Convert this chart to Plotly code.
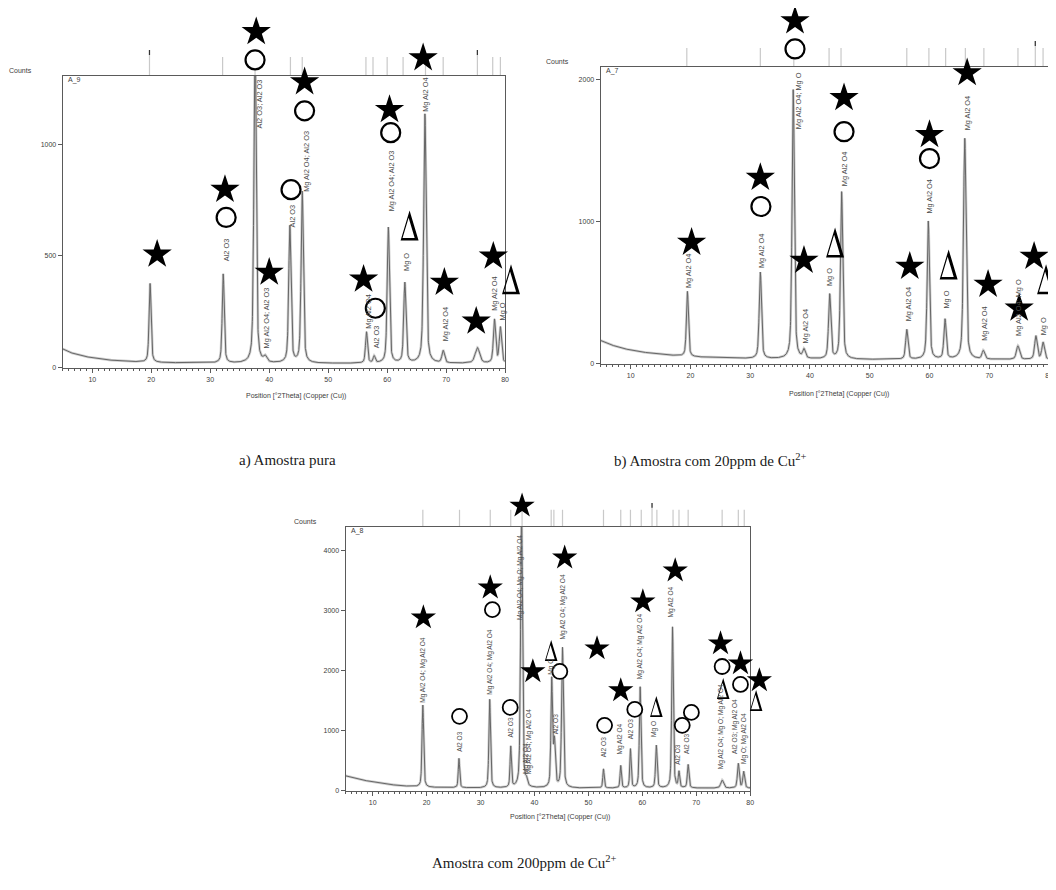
import numpy as np
import plotly.graph_objects as go

W, H = 1056, 890

# ---------------- DATA ----------------
# Panel a) Amostra pura  (scan A_9)
a_peak_pos    = [19.8, 32.2, 37.6, 39.3, 43.5, 45.6, 56.5, 57.8, 60.2, 63.0, 66.4, 69.5, 75.3, 78.2, 79.2]
a_peak_counts = [355, 400, 1500, 25, 615, 770, 140, 30, 610, 360, 1120, 55, 70, 195, 160]
a_peak_fwhm   = [0.4, 0.4, 0.45, 0.6, 0.45, 0.45, 0.4, 0.4, 0.45, 0.45, 0.5, 0.5, 0.9, 0.45, 0.45]
a_bg_pos      = [5, 6, 8, 10, 12, 15, 20, 30, 40, 50, 60, 70, 80]
a_bg_counts   = [82, 68, 52, 42, 34, 27, 21, 18, 17, 17, 17, 17, 17]
a_ref_lines   = [19.7, 32.1, 37.6, 43.6, 45.6, 56.4, 57.6, 60.0, 62.7, 66.5, 69.5, 75.3, 77.9, 79.2]
a_ref_marked  = [19.7, 75.3]
a_label_text  = ["Al2 O3", "Al2 O3; Al2 O3", "Mg Al2 O4; Al2 O3", "Al2 O3", "Mg Al2 O4; Al2 O3",
                 "Mg Al2 O4", "Al2 O3", "Mg Al2 O4; Al2 O3", "Mg O", "Mg Al2 O4", "Mg Al2 O4",
                 "Mg Al2 O4", "Mg O"]
a_label_pos   = [32.9, 38.3, 39.6, 44.0, 46.2, 56.9, 58.2, 60.7, 63.3, 66.5, 69.9, 78.3, 79.5]
a_label_counts = [471, 1067, 81, 625, 785, 170, 81, 695, 426, 1143, 112, 247, 206]
a_star_pos    = [21.0, 32.5, 37.8, 46.0, 40.0, 56.0, 60.4, 66.1, 69.7, 75.1, 78.0]
a_star_counts = [507, 798, 1507, 1282, 426, 395, 1157, 1390, 381, 206, 498]
a_circ_pos    = [37.6, 32.7, 43.7, 46.0, 60.6, 58.0]
a_circ_counts = [1381, 673, 798, 1152, 1054, 265]
a_tri_pos     = [63.8, 81.0]
a_tri_counts  = [637, 395]

# Panel b) Amostra com 20ppm de Cu2+  (scan A_7)
b_peak_pos    = [19.5, 31.7, 37.2, 39.0, 43.3, 45.3, 56.2, 59.8, 62.6, 65.9, 69.0, 74.8, 77.8, 79.0]
b_peak_counts = [460, 610, 1900, 60, 455, 1180, 210, 975, 280, 1560, 60, 95, 165, 120]
b_peak_fwhm   = [0.4, 0.45, 0.45, 0.5, 0.45, 0.45, 0.45, 0.45, 0.45, 0.5, 0.5, 0.6, 0.5, 0.5]
b_bg_pos      = [5, 6, 8, 10, 12, 15, 20, 30, 40, 50, 60, 70, 80]
b_bg_counts   = [160, 140, 112, 92, 78, 62, 45, 32, 28, 26, 26, 26, 26]
b_ref_lines   = [19.4, 31.7, 37.3, 43.2, 45.2, 56.2, 59.9, 62.7, 66.0, 69.1, 74.8, 77.7, 79.0]
b_ref_marked  = [77.7]
b_label_text  = ["Mg Al2 O4", "Mg Al2 O4", "Mg Al2 O4; Mg O", "Mg Al2 O4", "Mg O", "Mg Al2 O4",
                 "Mg Al2 O4", "Mg Al2 O4", "Mg O", "Mg Al2 O4", "Mg Al2 O4", "Mg Al2 O4; Mg O", "Mg O"]
b_label_pos   = [19.8, 32.0, 38.0, 39.3, 43.3, 45.7, 56.5, 60.0, 62.8, 66.3, 69.3, 75.0, 79.0]
b_label_counts = [521, 662, 1648, 134, 535, 1239, 289, 1049, 380, 1634, 148, 183, 190]
b_star_pos    = [20.2, 31.7, 37.5, 39.0, 45.7, 56.7, 60.0, 66.3, 69.8, 75.0, 77.5]
b_star_counts = [852, 1310, 2415, 725, 1873, 683, 1613, 2049, 556, 387, 753]
b_circ_pos    = [37.5, 31.8, 45.7, 60.0]
b_circ_counts = [2218, 1106, 1634, 1444]
b_tri_pos     = [44.2, 63.2, 79.5]
b_tri_counts  = [852, 697, 592]

# Panel c) Amostra com 200ppm de Cu2+  (scan A_8)
c_peak_pos    = [19.3, 26.0, 31.7, 35.6, 37.6, 38.5, 43.2, 43.7, 45.2, 52.8, 56.0, 57.8, 59.6,
                 62.6, 65.6, 66.8, 68.5, 74.8, 77.8, 78.8]
c_peak_counts = [1370, 490, 1480, 680, 4700, 100, 1790, 750, 2340, 320, 375, 650, 1690,
                 710, 2690, 260, 390, 135, 410, 275]
c_peak_fwhm   = [0.35, 0.3, 0.35, 0.3, 0.4, 0.4, 0.35, 0.4, 0.4, 0.3, 0.3, 0.3, 0.35,
                 0.35, 0.35, 0.3, 0.35, 0.6, 0.4, 0.4]
c_bg_pos      = [5, 6, 8, 10, 12, 15, 20, 30, 40, 50, 60, 70, 80]
c_bg_counts   = [240, 215, 172, 140, 110, 75, 48, 36, 34, 34, 34, 34, 34]
c_ref_lines   = [19.3, 26.1, 31.8, 35.6, 37.7, 43.1, 43.6, 45.2, 52.8, 56.0, 57.8, 59.8, 61.8,
                 62.7, 65.7, 66.8, 68.5, 74.8, 77.8, 78.9]
c_ref_marked  = [61.8]
c_label_text  = ["Mg Al2 O4; Mg Al2 O4", "Al2 O3", "Mg Al2 O4; Mg Al2 O4", "Al2 O3",
                 "Mg Al2 O4; Mg O; Mg Al2 O4", "Mg Al2 O4", "Mg Al2 O4; Mg Al2 O4", "Mg O", "Al2 O3",
                 "Mg Al2 O4; Mg Al2 O4", "Al2 O3", "Mg Al2 O4", "Al2 O3", "Mg Al2 O4; Mg Al2 O4",
                 "Mg O", "Mg Al2 O4", "Al2 O3", "Al2 O3", "Mg Al2 O4; Mg O; Mg Al2 O4",
                 "Al2 O3; Mg Al2 O4", "Mg O; Mg Al2 O4"]
c_label_pos   = [19.4, 26.1, 31.8, 35.5, 37.3, 38.3, 39.0, 43.1, 43.8, 45.3, 52.7, 55.8, 57.7,
                 59.5, 62.3, 65.4, 66.5, 68.2, 74.5, 77.2, 78.9]
c_label_counts = [1450, 617, 1583, 867, 2833, 250, 250, 1917, 917, 2500, 533, 583, 833,
                  1833, 867, 2867, 417, 583, 333, 583, 417]
c_star_pos    = [19.4, 31.8, 37.7, 39.7, 45.6, 51.6, 56.0, 60.1, 66.1, 74.5, 78.2, 81.7]
c_star_counts = [2884, 3384, 4751, 1984, 3884, 2367, 1667, 3151, 3668, 2451, 2117, 1834]
c_circ_pos    = [26.1, 32.2, 35.5, 44.7, 53.0, 58.6, 67.4, 69.1, 74.8, 78.2]
c_circ_counts = [1234, 3017, 1384, 1984, 1084, 1350, 1084, 1300, 2067, 1767]
c_tri_pos     = [43.1, 62.6, 75.0, 81.1]
c_tri_counts  = [2334, 1400, 1700, 1500]

x_range = [5, 80]
x_tick_step = 10
caption_a = "a) Amostra pura"
caption_b = "b) Amostra com 20ppm de Cu<sup>2+</sup>"
caption_c = "Amostra com 200ppm de Cu<sup>2+</sup>"
x_title = "Position [°2Theta] (Copper (Cu))"

# ---------------- LAYOUT GEOMETRY (pixels of the target page) ----------------
OFF = 8  # the page body margin shifts the figure by this much
panels = [
    dict(name="A_9", n="", nm="4", left=63, right=507, top=76, bottom=369, zero=368, ppk=223,
         ydtick=500, ext=35, tri_scale=1.0, star=22, circ=19, circ_lw=2.2, lab=7.4,
         ref_h=19, counts_xy=(21, 71), name_xy=(66, 80), title_xy=(297, 397),
         peaks=(a_peak_pos, a_peak_counts, a_peak_fwhm), bg=(a_bg_pos, a_bg_counts),
         refs=(a_ref_lines, a_ref_marked), labels=(a_label_text, a_label_pos, a_label_counts),
         stars=(a_star_pos, a_star_counts), circs=(a_circ_pos, a_circ_counts),
         tris=(a_tri_pos, a_tri_counts)),
    dict(name="A_7", n="2", nm="5", left=603, right=1053, top=67, bottom=365, zero=364, ppk=142,
         ydtick=1000, ext=35, tri_scale=1.0, star=22, circ=19, circ_lw=2.2, lab=7.4,
         ref_h=19, counts_xy=(560, 62), name_xy=(606, 71), title_xy=(842, 395),
         peaks=(b_peak_pos, b_peak_counts, b_peak_fwhm), bg=(b_bg_pos, b_bg_counts),
         refs=(b_ref_lines, b_ref_marked), labels=(b_label_text, b_label_pos, b_label_counts),
         stars=(b_star_pos, b_star_counts), circs=(b_circ_pos, b_circ_counts),
         tris=(b_tri_pos, b_tri_counts)),
    dict(name="A_8", n="3", nm="6", left=347, right=753, top=528, bottom=793, zero=792, ppk=60,
         ydtick=1000, ext=35, tri_scale=0.7, star=19, circ=15, circ_lw=1.8, lab=6.6,
         ref_h=17, counts_xy=(307, 523), name_xy=(350, 532), title_xy=(562, 819),
         peaks=(c_peak_pos, c_peak_counts, c_peak_fwhm), bg=(c_bg_pos, c_bg_counts),
         refs=(c_ref_lines, c_ref_marked), labels=(c_label_text, c_label_pos, c_label_counts),
         stars=(c_star_pos, c_star_counts), circs=(c_circ_pos, c_circ_counts),
         tris=(c_tri_pos, c_tri_counts)),
]

AX_COLOR = "#5a5a5a"
TXT_COLOR = "#3c3c3c"
SANS = "Liberation Sans, Arial, sans-serif"
SERIF = "Liberation Serif, Times New Roman, serif"


def fx(px):
    return (px - OFF) / W


def fy(py):
    return 1 - (py - OFF) / H


def profile(pos, counts, fwhm, bg_pos, bg_counts, grid):
    """pseudo-Voigt peak profiles on the measured background"""
    base = np.interp(grid, bg_pos, bg_counts)
    peaks = np.zeros_like(grid)
    for p, h, w in zip(pos, counts, fwhm):
        u = (grid - p) / (w / 2.0)
        peaks += h * (0.5 / (1 + u ** 2) + 0.5 * np.exp(-np.log(2) * u ** 2))
    return base + peaks


def tri_path(s):
    outer = [(0, 15), (-9, -15), (9, -15)]
    inner = [(-0.94, 7.7), (-7.0, -12.5), (5.1, -12.5)]

    def sub(pts):
        return "M" + " L".join(f"{x * s:.2f},{y * s:.2f}" for x, y in pts) + " Z"
    return sub(outer) + " " + sub(inner)


fig = go.Figure()
grid = np.arange(x_range[0], x_range[1] + 1e-9, 0.02)
layout_axes = {}
annotations = []
shapes = []

for P in panels:
    n, nm = P["n"], P["nm"]
    xa, ya = "x" + n, "y" + n
    xm, ym = "x" + nm, "y" + nm
    ppu = (P["right"] - P["left"]) / (x_range[1] - x_range[0])   # px per degree
    y_bottom = -(P["bottom"] - P["zero"]) * 1000 / P["ppk"]
    y_top = (P["zero"] - P["top"]) * 1000 / P["ppk"]
    right_px = min(W + OFF, P["right"])

    layout_axes["xaxis" + n] = dict(
        domain=[fx(P["left"]), fx(right_px)],
        range=[x_range[0], x_range[0] + (right_px - P["left"]) / ppu], anchor=ya,
        showline=True, mirror=True, linecolor=AX_COLOR, linewidth=1.3,
        ticks="outside", ticklen=4, tickwidth=1, tickcolor=AX_COLOR,
        tick0=0, dtick=x_tick_step, showgrid=False, zeroline=False,
        tickfont=dict(family=SANS, size=7, color=TXT_COLOR),
        minor=dict(dtick=1, ticks="outside", ticklen=2, tickcolor=AX_COLOR, showgrid=False),
    )
    layout_axes["yaxis" + n] = dict(
        domain=[fy(P["bottom"]), fy(P["top"])], range=[y_bottom, y_top], anchor=xa,
        showline=True, mirror=True, linecolor=AX_COLOR, linewidth=1.3,
        ticks="outside", ticklen=4, tickwidth=1, tickcolor=AX_COLOR,
        tick0=0, dtick=P["ydtick"], showgrid=False, zeroline=False,
        tickfont=dict(family=SANS, size=7, color=TXT_COLOR),
    )
    # hidden marker axes: same scales, extended up and right so symbols above/right of
    # the frame are drawn too
    right_ext = min(W + OFF, P["right"] + P["ext"])
    top_ext = max(OFF, P["top"] - 60)
    layout_axes["xaxis" + nm] = dict(
        domain=[fx(P["left"]), fx(right_ext)],
        range=[x_range[0], x_range[0] + (right_ext - P["left"]) / ppu],
        anchor=ym, visible=False, showgrid=False, zeroline=False)
    layout_axes["yaxis" + nm] = dict(
        domain=[fy(P["bottom"]), fy(top_ext)],
        range=[y_bottom, (P["zero"] - top_ext) * 1000 / P["ppk"]],
        anchor=xm, visible=False, showgrid=False, zeroline=False)

    # diffraction pattern (light calculated profile under the measured one)
    counts = profile(*P["peaks"], *P["bg"], grid)
    fig.add_trace(go.Scatter(x=grid, y=counts, xaxis=xa, yaxis=ya, mode="lines",
                             line=dict(color="#cfcfcf", width=2.6), hoverinfo="skip",
                             showlegend=False))
    fig.add_trace(go.Scatter(x=grid, y=counts, xaxis=xa, yaxis=ya, mode="lines",
                             line=dict(color="#666666", width=1.0), showlegend=False,
                             name=P["name"]))

    # phase markers
    cx, cy = P["circs"]
    fig.add_trace(go.Scatter(x=cx, y=cy, xaxis=xm, yaxis=ym, mode="markers", cliponaxis=False,
                             marker=dict(symbol="circle", size=P["circ"], color="white",
                                         line=dict(color="black", width=P["circ_lw"])),
                             showlegend=False, name="Al2 O3"))
    sx, sy = P["stars"]
    fig.add_trace(go.Scatter(x=sx, y=sy, xaxis=xm, yaxis=ym, mode="markers", cliponaxis=False,
                             marker=dict(symbol="star", size=P["star"], color="black",
                                         line=dict(width=0)),
                             showlegend=False, name="Mg Al2 O4"))
    tx, ty = P["tris"]
    fig.add_trace(go.Scatter(x=tx, y=ty, xaxis=xm, yaxis=ym, mode="markers",
                             marker=dict(size=1, opacity=0), showlegend=False, name="Mg O"))
    for x, y in zip(tx, ty):
        shapes.append(dict(type="path", xref=xm, yref=ym, xsizemode="pixel",
                           ysizemode="pixel", xanchor=x, yanchor=y, path=tri_path(P["tri_scale"]),
                           fillcolor="black", fillrule="evenodd",
                           line=dict(width=0, color="rgba(0,0,0,0)"), layer="above"))

    # reference-pattern sticks above the frame
    plot_h = P["bottom"] - P["top"]
    refs, marked = P["refs"]
    for x in refs:
        top = P["ref_h"] + (7 if x in marked else 0)
        shapes.append(dict(type="line", xref=xa, yref=ya + " domain", x0=x, x1=x,
                           y0=1, y1=1 + top / plot_h, line=dict(color="#c9c9c9", width=1.2),
                           layer="below"))
        if x in marked:
            shapes.append(dict(type="line", xref=xa, yref=ya + " domain", x0=x, x1=x,
                               y0=1 + (top - 5) / plot_h, y1=1 + top / plot_h,
                               line=dict(color="#333333", width=1.2)))

    # peak labels
    for t, x, y in zip(*P["labels"]):
        annotations.append(dict(x=x, y=y, xref=xa, yref=ya, text=t, textangle=-90,
                                showarrow=False, xanchor="center", yanchor="bottom", borderpad=0,
                                font=dict(family=SANS, size=P["lab"], color="#4a4a4a")))

    # panel texts
    annotations.append(dict(x=fx(P["counts_xy"][0]), y=fy(P["counts_xy"][1]), xref="paper",
                            yref="paper", text="Counts", showarrow=False, xanchor="center",
                            yanchor="middle", font=dict(family=SANS, size=7, color=TXT_COLOR)))
    annotations.append(dict(x=fx(P["name_xy"][0]), y=fy(P["name_xy"][1]), xref="paper",
                            yref="paper", text=P["name"], showarrow=False, xanchor="left",
                            yanchor="middle", font=dict(family=SANS, size=7, color=TXT_COLOR)))
    annotations.append(dict(x=fx(P["title_xy"][0]), y=fy(P["title_xy"][1]), xref="paper",
                            yref="paper", text=x_title, showarrow=False, xanchor="center",
                            yanchor="middle", font=dict(family=SANS, size=7, color=TXT_COLOR)))

# captions
for text, px, py in [(caption_a, 289, 462), (caption_b, 713, 462), (caption_c, 526, 864)]:
    annotations.append(dict(x=fx(px), y=fy(py), xref="paper", yref="paper", text=text,
                            showarrow=False, xanchor="center", yanchor="middle",
                            font=dict(family=SERIF, size=15, color="#1a1a1a")))

fig.update_layout(
    width=W, height=H, margin=dict(l=0, r=0, t=0, b=0),
    paper_bgcolor="white", plot_bgcolor="rgba(0,0,0,0)",
    showlegend=False, annotations=annotations, shapes=shapes, **layout_axes,
)

fig.write_html("out.html")
